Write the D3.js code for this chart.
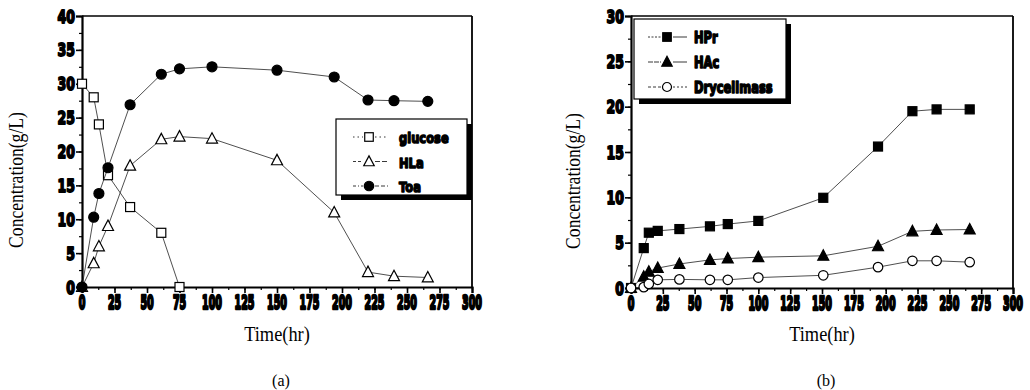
<!DOCTYPE html>
<html>
<head>
<meta charset="utf-8">
<script src="https://cdn.jsdelivr.net/npm/d3@7"></script>
<style>
  html, body { margin: 0; padding: 0; background: #fff; }
  svg { display: block; }
</style>
</head>
<body>
<svg id="chart" width="1030" height="390"></svg>
<script>
// ---- panel (a): substrate and products ----
const timeA = [0, 9, 13, 20, 37, 61, 75, 100, 150, 194, 220, 240, 266];
const glucose = [30, 28, 24, 16.5, 11.8, 8.0, 0];
const hla = [0, 3.5, 6.0, 9.0, 17.9, 21.8, 22.2, 21.9, 18.7, 11.0, 2.2, 1.6, 1.4];
const toa = [0, 10.3, 13.8, 17.6, 26.9, 31.4, 32.2, 32.5, 32.0, 31.0, 27.6, 27.5, 27.4];

// ---- panel (b): acids and biomass ----
const timeB = [0, 10, 14, 21, 38, 62, 76, 100, 151, 194, 221, 240, 266];
const hpr = [0, 4.4, 6.1, 6.3, 6.5, 6.8, 7.05, 7.4, 9.95, 15.6, 19.5, 19.7, 19.7];
const hac = [0, 1.25, 1.8, 2.2, 2.65, 3.1, 3.25, 3.4, 3.55, 4.6, 6.25, 6.4, 6.45];
const drycell = [0, 0.1, 0.45, 0.9, 0.95, 0.9, 0.9, 1.15, 1.4, 2.3, 3.0, 3.0, 2.85];

const xTicks = [0, 25, 50, 75, 100, 125, 150, 175, 200, 225, 250, 275, 300];
const yTicksA = [0, 5, 10, 15, 20, 25, 30, 35, 40];
const yTicksB = [0, 5, 10, 15, 20, 25, 30];

const yTitle = "Concentration(g/L)";
const xTitle = "Time(hr)";

const svg = d3.select("#chart");
const heavy = "'DejaVu Sans', sans-serif";
const serif = "'Liberation Serif', 'Times New Roman', serif";

function marker(g, shape, size, fill) {
  if (shape === "square") {
    g.append("rect").attr("x", -size / 2).attr("y", -size / 2)
      .attr("width", size).attr("height", size)
      .attr("fill", fill).attr("stroke", "#000").attr("stroke-width", 1.2);
  } else if (shape === "triangle") {
    const h = size * 0.9;
    g.append("path")
      .attr("d", `M0,${-h * 0.6} L${size / 2},${h * 0.45} L${-size / 2},${h * 0.45} Z`)
      .attr("fill", fill).attr("stroke", "#000").attr("stroke-width", 1.2);
  } else {
    g.append("circle").attr("r", size / 2)
      .attr("fill", fill).attr("stroke", "#000").attr("stroke-width", 1.2);
  }
}

// bold lettering stretched tall, used for ticks and legend entries
function heavyText(parent, x, y, str, size, sy, anchor, sw) {
  return parent.append("text")
    .attr("transform", `translate(${x},${y}) scale(1,${sy})`)
    .attr("text-anchor", anchor)
    .attr("font-family", heavy).attr("font-weight", "bold")
    .attr("font-size", size)
    .attr("stroke", "#000").attr("stroke-width", sw).attr("stroke-linejoin", "round")
    .text(str);
}

function panel(cfg) {
  const g = svg.append("g");
  const x = d3.scaleLinear().domain([0, 300]).range([cfg.left, cfg.right]);
  const y = d3.scaleLinear().domain([0, cfg.yMax]).range([cfg.bottom, cfg.top]);

  // frame: heavier left/bottom axes, lighter top/right
  g.append("line").attr("x1", cfg.left).attr("x2", cfg.right)
    .attr("y1", cfg.top).attr("y2", cfg.top).attr("stroke", "#000").attr("stroke-width", 1.5);
  g.append("line").attr("x1", cfg.right).attr("x2", cfg.right)
    .attr("y1", cfg.top).attr("y2", cfg.bottom).attr("stroke", "#000").attr("stroke-width", 1.8);

  // y axis
  const yMinor = d3.range(0, cfg.yMax + 0.01, 2.5);
  const ga = g.append("g").attr("transform", `translate(${cfg.left},0)`)
    .call(d3.axisLeft(y).tickValues(yMinor).tickSize(3).tickFormat(""));
  ga.selectAll("line").attr("stroke", "#000").attr("stroke-width", 1.2);
  ga.select(".domain").remove();
  const gm = g.append("g").attr("transform", `translate(${cfg.left},0)`)
    .call(d3.axisLeft(y).tickValues(cfg.yTicks).tickSize(6).tickFormat(""));
  gm.selectAll("line").attr("stroke", "#000").attr("stroke-width", 1.6);
  gm.select(".domain").attr("stroke", "#000").attr("stroke-width", 2.2);
  cfg.yTicks.forEach(v => heavyText(g, cfg.left - 7, y(v) + 6.5, String(v), 12.5, 1.42, "end", 1.3));

  // x axis
  const xMinor = d3.range(0, 300.1, 12.5);
  const xa = g.append("g").attr("transform", `translate(0,${cfg.bottom})`)
    .call(d3.axisBottom(x).tickValues(xMinor).tickSize(3).tickFormat(""));
  xa.selectAll("line").attr("stroke", "#000").attr("stroke-width", 1.2);
  xa.select(".domain").remove();
  const xm = g.append("g").attr("transform", `translate(0,${cfg.bottom})`)
    .call(d3.axisBottom(x).tickValues(xTicks).tickSize(6).tickFormat(""));
  xm.selectAll("line").attr("stroke", "#000").attr("stroke-width", 1.6);
  xm.select(".domain").attr("stroke", "#000").attr("stroke-width", 2.2);
  xTicks.forEach(v => heavyText(g, x(v), cfg.bottom + 22, String(v), 9.5, 1.95, "middle", 1.3));

  // axis titles and caption
  g.append("text")
    .attr("transform", `translate(${cfg.yTitleX},${cfg.yTitleY}) rotate(-90) scale(0.88,1)`)
    .attr("text-anchor", "middle").attr("font-family", serif).attr("font-size", 20)
    .text(yTitle);
  g.append("text")
    .attr("transform", `translate(${(cfg.left + cfg.right) / 2},341) scale(0.92,1)`)
    .attr("text-anchor", "middle").attr("font-family", serif).attr("font-size", 20)
    .text(xTitle);
  g.append("text")
    .attr("x", (cfg.left + cfg.right) / 2 + 4).attr("y", 386)
    .attr("text-anchor", "middle").attr("font-family", serif).attr("font-size", 16)
    .text(cfg.caption);

  // series
  cfg.series.forEach(s => {
    const pts = s.values.map((v, i) => [s.time[i], v]);
    g.append("path")
      .datum(pts)
      .attr("fill", "none").attr("stroke", "#222").attr("stroke-width", 0.8)
      .attr("d", d3.line().x(d => x(d[0])).y(d => y(d[1])));
    pts.forEach(d => {
      const m = g.append("g").attr("transform", `translate(${x(d[0])},${y(d[1])})`);
      marker(m, s.shape, s.size, s.fill);
    });
  });

  // legend with drop shadow
  const L = cfg.legend;
  g.append("rect").attr("x", L.x + 5).attr("y", L.y + 5).attr("width", L.w).attr("height", L.h)
    .attr("fill", "#000");
  g.append("rect").attr("x", L.x).attr("y", L.y).attr("width", L.w).attr("height", L.h)
    .attr("fill", "#fff").attr("stroke", "#000").attr("stroke-width", 1.2);
  cfg.series.forEach((s, i) => {
    const ry = L.y + L.row0 + i * L.dy;
    g.append("line").attr("x1", L.x + L.l0).attr("x2", L.x + L.sym - 6)
      .attr("y1", ry).attr("y2", ry).attr("stroke", "#222").attr("stroke-width", 0.9)
      .attr("stroke-dasharray", s.legDashL);
    g.append("line").attr("x1", L.x + L.sym + 6).attr("x2", L.x + L.l1)
      .attr("y1", ry).attr("y2", ry).attr("stroke", "#222").attr("stroke-width", 0.9)
      .attr("stroke-dasharray", s.legDashR);
    const m = g.append("g").attr("transform", `translate(${L.x + L.sym},${ry})`);
    marker(m, s.shape, s.size * 0.95, s.fill);
    heavyText(g, L.x + L.text, ry + 6, s.name, L.fs, L.sy, "start", 1.2);
  });
}

panel({
  left: 82, right: 472, top: 16, bottom: 287, yMax: 40, yTicks: yTicksA,
  yTitleX: 23, yTitleY: 180, caption: "(a)",
  series: [
    { name: "glucose", time: timeA, values: glucose, shape: "square", size: 9, fill: "#fff",
      legDashL: "1.5,3", legDashR: "1.5,3" },
    { name: "HLa", time: timeA, values: hla, shape: "triangle", size: 11, fill: "#fff",
      legDashL: "3,2", legDashR: "5,2" },
    { name: "Toa", time: timeA, values: toa, shape: "circle", size: 10, fill: "#000",
      legDashL: "3,2,1,2", legDashR: "4,2" }
  ],
  legend: { x: 336, y: 119, w: 131, h: 76, row0: 18, dy: 24.5, l0: 17, sym: 33, l1: 52, text: 63, fs: 11.5, sy: 1.3 }
});

panel({
  left: 631, right: 1013, top: 16, bottom: 288, yMax: 30, yTicks: yTicksB,
  yTitleX: 580, yTitleY: 181, caption: "(b)",
  series: [
    { name: "HPr", time: timeB, values: hpr, shape: "square", size: 9, fill: "#000",
      legDashL: "2,1.5", legDashR: null },
    { name: "HAc", time: timeB, values: hac, shape: "triangle", size: 11, fill: "#000",
      legDashL: "5,1", legDashR: null },
    { name: "Drycellmass", time: timeB, values: drycell, shape: "circle", size: 9.5, fill: "#fff",
      legDashL: "3,2", legDashR: "2,2" }
  ],
  legend: { x: 634, y: 19, w: 152, h: 80, row0: 18, dy: 25, l0: 14, sym: 33, l1: 53, text: 60, fs: 11.5, sy: 1.35 }
});
</script>
</body>
</html>
